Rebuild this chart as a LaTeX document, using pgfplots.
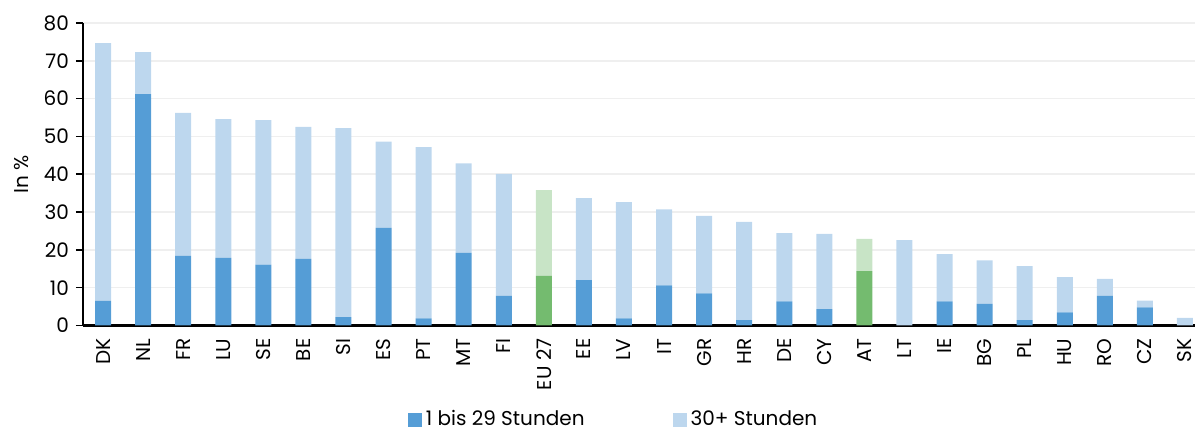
\documentclass[border=0pt]{standalone}
\usepackage{pgfplots}
\pgfplotsset{compat=1.18}
\usepackage{fontspec}
\setmainfont{Poppins}
\definecolor{bdark}{HTML}{559DD6}
\definecolor{blight}{HTML}{BDD7EE}
\definecolor{gdark}{HTML}{74BB6F}
\definecolor{glight}{HTML}{C8E4C6}
\definecolor{gridc}{HTML}{EFEFEF}
\begin{document}
\begin{tikzpicture}
\useasboundingbox (-41.5pt,-52.75pt) rectangle (556pt,162.75pt);
\begin{axis}[
  scale only axis,
  width=556pt, height=151.25pt,
  xmin=-0.5, xmax=27.25,
  ymin=0, ymax=80,
  ytick={0,10,...,80},
  xtick={0,...,27},
  xticklabels={DK,NL,FR,LU,SE,BE,SI,ES,PT,MT,FI,EU 27,EE,LV,IT,GR,HR,DE,CY,AT,LT,IE,BG,PL,HU,RO,CZ,SK},
  ybar stacked, bar width=8pt,
  axis x line*=bottom, axis y line*=left,
  x axis line style={line width=1.1pt, -},
  y axis line style={line width=0.8pt, -},
  ymajorgrids, grid style={gridc, line width=0.8pt},
  major tick length=3.5pt,
  xtick style={draw=none},
  ytick style={black, line width=0.8pt},
  tick align=outside,
  /pgf/number format/assume math mode=true,
  yticklabel style={font=\fontsize{10}{11}\selectfont, xshift=0pt},
  xticklabel style={font=\fontsize{10}{11}\selectfont, rotate=90, anchor=east, inner ysep=0.3pt, yshift=0pt, xshift=0.5pt},
  ylabel={In \%},
  ylabel style={font=\fontsize{10}{11}\selectfont, at={(axis description cs:0,0.5)}, anchor=center, yshift=30.5pt},
  legend style={at={(0.478,-0.311)}, anchor=center, draw=none, fill=none,
    legend columns=2, font=\fontsize{10}{11}\selectfont,
    /tikz/every even column/.append style={column sep=42pt}},
  legend image code/.code={\fill[#1] (0pt,-3.5pt) rectangle (7pt,3.5pt);},
]
% dark blue (1 bis 29 Stunden), zero for EU 27 and AT
\addplot[fill=bdark, draw=none] coordinates {
(0,6.5) (1,61.2) (2,18.4) (3,17.9) (4,16.1) (5,17.6) (6,2.2) (7,25.8) (8,1.9) (9,19.2)
(10,7.8) (11,0) (12,12.0) (13,1.9) (14,10.6) (15,8.5) (16,1.4) (17,6.4) (18,4.3) (19,0)
(20,0) (21,6.4) (22,5.7) (23,1.4) (24,3.5) (25,7.8) (26,4.8) (27,0)};
\addlegendentry{1 bis 29 Stunden}
% dark green
\addplot[fill=gdark, draw=none, forget plot] coordinates {
(0,0) (1,0) (2,0) (3,0) (4,0) (5,0) (6,0) (7,0) (8,0) (9,0)
(10,0) (11,13.1) (12,0) (13,0) (14,0) (15,0) (16,0) (17,0) (18,0) (19,14.4)
(20,0) (21,0) (22,0) (23,0) (24,0) (25,0) (26,0) (27,0)};
% light blue (30+ Stunden)
\addplot[fill=blight, draw=none] coordinates {
(0,68.2) (1,11.1) (2,37.8) (3,36.7) (4,38.2) (5,34.9) (6,50.0) (7,22.8) (8,45.3) (9,23.7)
(10,32.3) (11,0) (12,21.7) (13,30.7) (14,20.1) (15,20.5) (16,26.0) (17,18.0) (18,19.9) (19,0)
(20,22.6) (21,12.5) (22,11.5) (23,14.3) (24,9.3) (25,4.5) (26,1.8) (27,2.0)};
\addlegendentry{30+ Stunden}
% light green
\addplot[fill=glight, draw=none, forget plot] coordinates {
(0,0) (1,0) (2,0) (3,0) (4,0) (5,0) (6,0) (7,0) (8,0) (9,0)
(10,0) (11,22.7) (12,0) (13,0) (14,0) (15,0) (16,0) (17,0) (18,0) (19,8.5)
(20,0) (21,0) (22,0) (23,0) (24,0) (25,0) (26,0) (27,0)};
\end{axis}
\end{tikzpicture}
\end{document}
